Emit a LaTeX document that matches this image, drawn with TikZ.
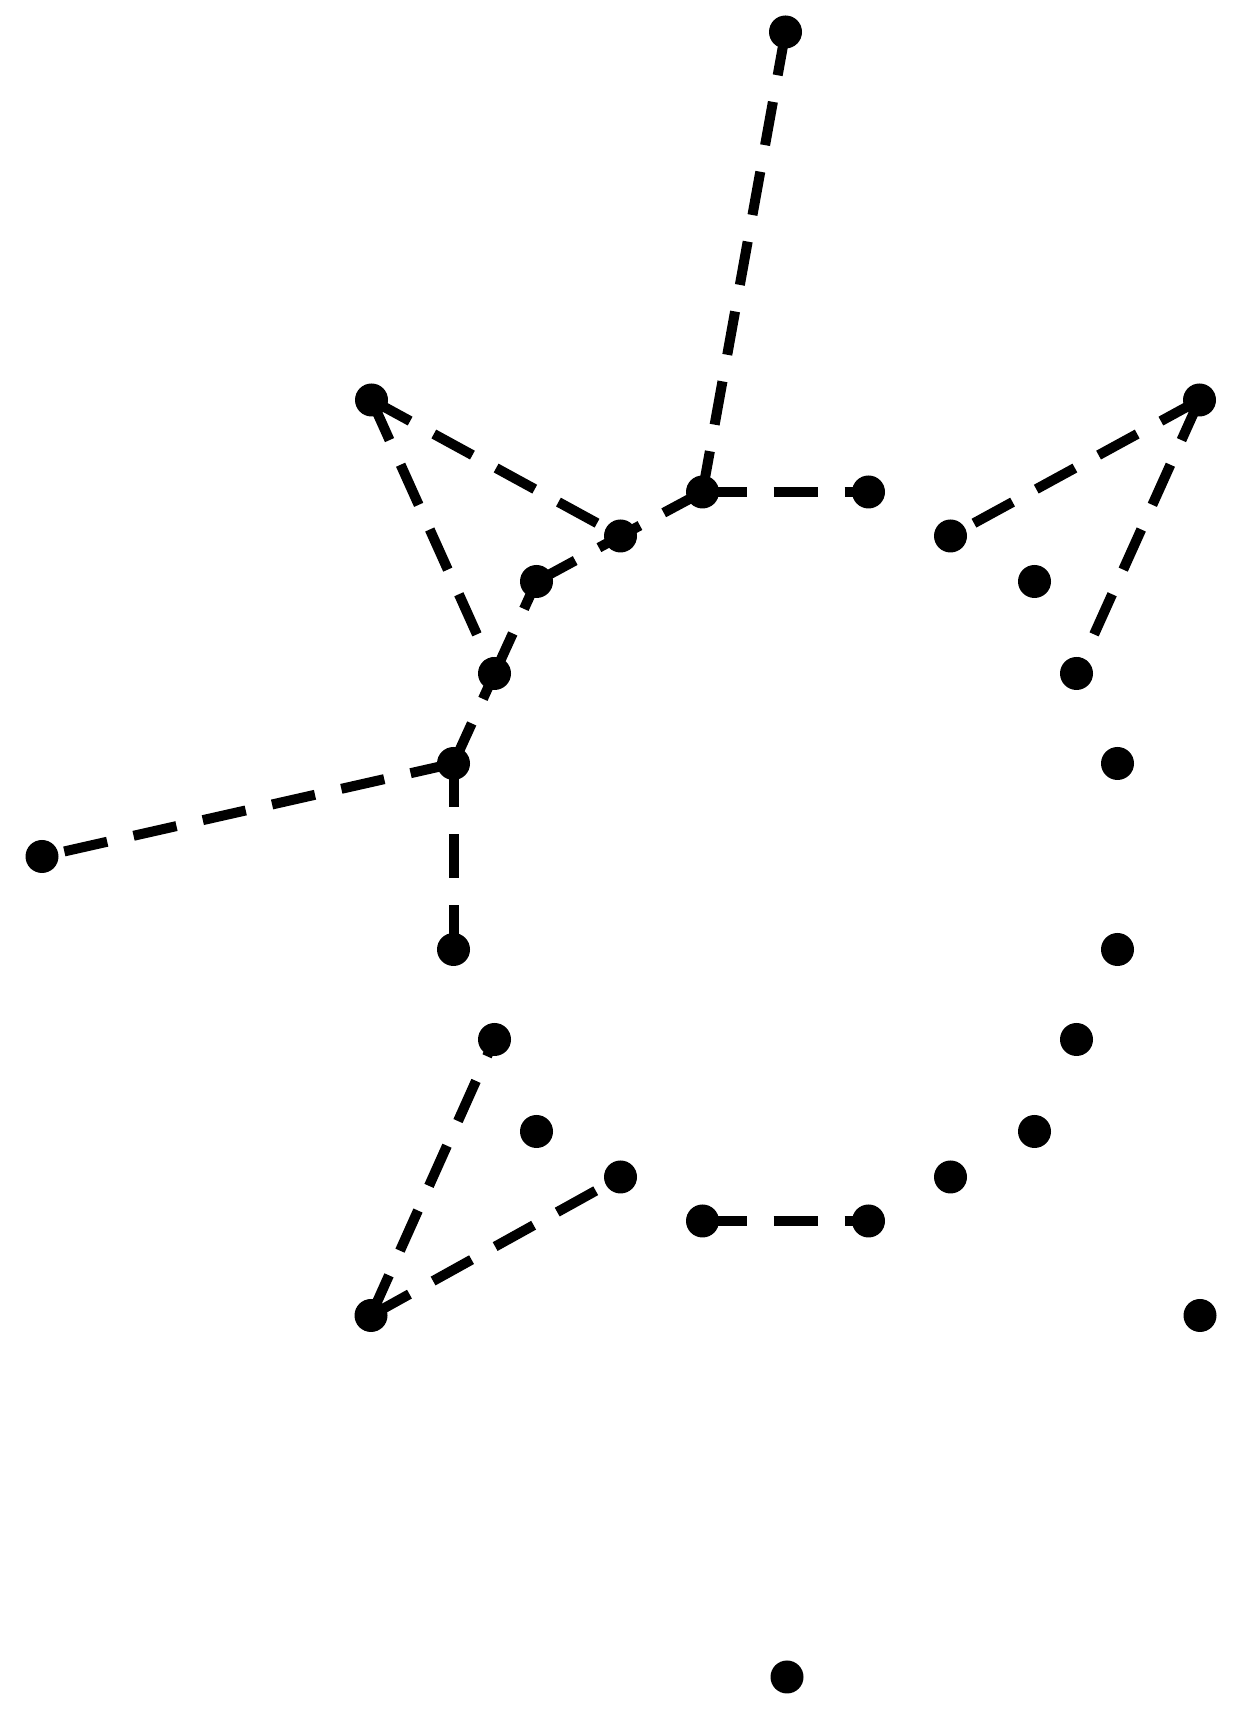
\documentclass[tikz,border=0pt]{standalone}
\usepackage{tikz}

\begin{document}
\begin{tikzpicture}[
    % Define styles for the points and the dashed links
    vertex/.style={circle, fill=black, inner sep=0pt, minimum size=0.33cm},
    link/.style={line width=0.1cm, draw=black, dash pattern=on 0.44cm off 0.27cm}
]
\useasboundingbox (0,0) rectangle (12.44,17.09);

% ==========================================
% Outer points
% ==========================================
\node[vertex] (top)    at (7.855,16.77) {};
\node[vertex] (nw)     at (3.715,13.09) {};
\node[vertex] (ne)     at (11.995,13.09) {};
\node[vertex] (west)   at (0.42,8.525) {};
\node[vertex] (sw)     at (3.71,3.935) {};
\node[vertex] (se)     at (12.0,3.935) {};
\node[vertex] (bottom) at (7.87,0.32) {};

% ==========================================
% Ring of points (clockwise from top left)
% ==========================================
\node[vertex] (r1)  at (7.025,12.17) {};
\node[vertex] (r2)  at (8.685,12.17) {};
\node[vertex] (r3)  at (9.505,11.73) {};
\node[vertex] (r4)  at (10.345,11.275) {};
\node[vertex] (r5)  at (10.765,10.355) {};
\node[vertex] (r6)  at (11.175,9.455) {};
\node[vertex] (r7)  at (11.175,7.595) {};
\node[vertex] (r8)  at (10.765,6.695) {};
\node[vertex] (r9)  at (10.345,5.775) {};
\node[vertex] (r10) at (9.505,5.32) {};
\node[vertex] (r11) at (8.685,4.88) {};
\node[vertex] (r12) at (7.025,4.88) {};
\node[vertex] (r13) at (6.205,5.32) {};
\node[vertex] (r14) at (5.365,5.775) {};
\node[vertex] (r15) at (4.945,6.695) {};
\node[vertex] (r16) at (4.535,7.595) {};
\node[vertex] (r17) at (4.535,9.455) {};
\node[vertex] (r18) at (4.945,10.355) {};
\node[vertex] (r19) at (5.365,11.275) {};
\node[vertex] (r20) at (6.205,11.73) {};

% ==========================================
% Dashed links
% ==========================================
\draw[link] (top.center) -- (r1.center);
\draw[link] (r1.center) -- (r2.center);
\draw[link] (r1.center) -- (r20.center);
\draw[link] (nw.center) -- (r20.center);
\draw[link] (r19.center) -- (r20.center);
\draw[link] (r18.center) -- (r19.center);
\draw[link] (nw.center) -- (r18.center);
\draw[link] (r17.center) -- (r18.center);
\draw[link] (r17.center) -- (west.center);
\draw[link] (r17.center) -- (r16.center);

\draw[link] (ne.center) -- (r3.center);
\draw[link] (ne.center) -- (r5.center);

\draw[link] (sw.center) -- (r15.center);
\draw[link] (sw.center) -- (r13.center);
\draw[link] (r12.center) -- (r11.center);

\end{tikzpicture}
\end{document}
